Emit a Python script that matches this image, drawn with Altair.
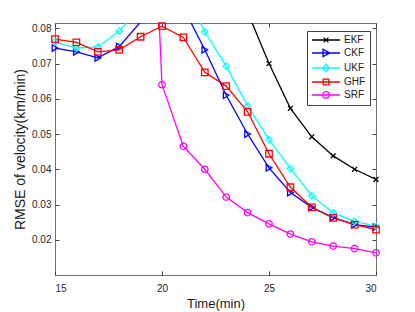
import altair as alt
import pandas as pd

time = list(range(15, 31))
methods = ["EKF", "CKF", "UKF", "GHF", "SRF"]
ekf = [0.30, 0.28, 0.26, 0.24, 0.22, 0.20, 0.17, 0.14, 0.11, 0.0846, 0.0700, 0.0573, 0.0492, 0.0438, 0.0400, 0.0371]
ckf = [0.0744, 0.0733, 0.0716, 0.0748, 0.0818, 0.0880, 0.0858, 0.0739, 0.0610, 0.0500, 0.0404, 0.0334, 0.0292, 0.0263, 0.0243, 0.0236]
ukf = [0.0761, 0.0744, 0.0747, 0.0792, 0.0860, 0.0940, 0.0915, 0.0790, 0.0692, 0.0580, 0.0484, 0.0402, 0.0325, 0.0276, 0.0252, 0.0238]
ghf = [0.0769, 0.0760, 0.0733, 0.0739, 0.0776, 0.0806, 0.0774, 0.0675, 0.0636, 0.0563, 0.0444, 0.0349, 0.0292, 0.0262, 0.0243, 0.0229]
srf = [0.23, 0.22, 0.215, 0.21, 0.20, 0.0640, 0.0465, 0.0400, 0.0321, 0.0277, 0.0245, 0.0216, 0.0194, 0.0182, 0.0175, 0.0163]
colors = ["#000000", "#0000ff", "#00ffff", "#ff0000", "#ff00ff"]
# plot markers
shapes = ["M-0.75,-0.75L0.75,0.75M-0.75,0.75L0.75,-0.75", "triangle-right", "diamond", "square", "circle"]
# legend symbols: a line segment with the open marker in its middle
legend_shapes = [
    "M-1,0L6,0M1.9,-0.6L3.1,0.6M1.9,0.6L3.1,-0.6",
    "M-1,0L6,0M1.75,-0.9L3.45,0L1.75,0.9Z",
    "M-1,0L6,0M2.5,-0.95L3.25,0L2.5,0.95L1.75,0Z",
    "M-1,0L6,0M1.8,-0.7L3.2,-0.7L3.2,0.7L1.8,0.7Z",
    "M-1,0L6,0M1.65,0A0.85,0.85 0 1,0 3.35,0A0.85,0.85 0 1,0 1.65,0Z",
]
x_ticks = [15, 20, 25, 30]
y_ticks = [0.02, 0.03, 0.04, 0.05, 0.06, 0.07, 0.08]

rows = []
for m, vals in zip(methods, [ekf, ckf, ukf, ghf, srf]):
    for t, v in zip(time, vals):
        rows.append({"Time": t, "RMSE": v, "Method": m})
df = pd.DataFrame(rows)

W, H = 321, 252
YMIN, YMAX = 0.01, 0.0815
FONT = "Liberation Sans"

xs = alt.Scale(domain=[15, 30], nice=False, zero=False)
ys = alt.Scale(domain=[YMIN, YMAX], nice=False, zero=False)

base = alt.Chart(df)

legend = alt.Legend(
    orient="none", legendX=252, legendY=8, title=None,
    symbolSize=64, symbolStrokeWidth=1.3, symbolFillColor="transparent",
    labelFontSize=10, labelFont=FONT, labelColor="#1a1a1a", labelOffset=23,
    rowPadding=1, padding=4, fillColor="white", strokeColor="#404040",
    labelExpr="datum.label + '   '",
)

# inward tick marks on all four sides (axes moved onto the opposite edge)
tick_axis_style = dict(labels=False, domain=False, grid=False, ticks=True, tickSize=4,
                       tickColor="#404040", tickWidth=1, title=None)

lines = base.mark_line(clip=True, strokeWidth=1.3).encode(
    x=alt.X("Time:Q", scale=xs, axis=alt.Axis(
        orient="bottom", values=x_ticks, ticks=False, tickSize=0, domain=False, grid=False,
        labelPadding=8, labelFontSize=10, labelColor="#262626",
        title="Time(min)", titleFontSize=13, titlePadding=4, titleColor="#1a1a1a",
        titleFontWeight="normal")),
    y=alt.Y("RMSE:Q", scale=ys, axis=alt.Axis(
        orient="left", values=y_ticks, format=".2f", ticks=False, tickSize=0, domain=False,
        grid=False, labelPadding=4, labelFontSize=10, labelColor="#262626",
        title="RMSE of velocity(km/min)", titleFontSize=14, titlePadding=4,
        titleColor="#1a1a1a", titleFontWeight="normal")),
    stroke=alt.Stroke("Method:N", scale=alt.Scale(domain=methods, range=colors), legend=legend),
)

point_layers = []
for i, (m, shp, col) in enumerate(zip(methods, shapes, colors)):
    if i == 0:
        xa = alt.Axis(orient="top", offset=-H, values=x_ticks, **tick_axis_style)
        ya = alt.Axis(orient="right", offset=-W, values=y_ticks, **tick_axis_style)
    else:
        xa = None
        ya = None
    layer = base.transform_filter(alt.datum.Method == m).transform_filter(
        f"datum.RMSE <= {YMAX}"
    ).mark_point(filled=False, shape=shp, color=col, size=42, strokeWidth=1.3, opacity=1).encode(
        x=alt.X("Time:Q", scale=xs, axis=xa),
        y=alt.Y("RMSE:Q", scale=ys, axis=ya),
    )
    point_layers.append(layer)

legend_layer = base.transform_filter("false").mark_point(filled=False, opacity=1).encode(
    x=alt.X("Time:Q", scale=xs, axis=alt.Axis(orient="bottom", offset=-H, values=x_ticks, **tick_axis_style)),
    y=alt.Y("RMSE:Q", scale=ys, axis=alt.Axis(orient="left", offset=-W, values=y_ticks, **tick_axis_style)),
    color=alt.Color("Method:N", scale=alt.Scale(domain=methods, range=colors), legend=legend),
    shape=alt.Shape("Method:N", scale=alt.Scale(domain=methods, range=legend_shapes), legend=legend),
)

chart = alt.layer(lines, *point_layers, legend_layer).resolve_axis(
    x="independent", y="independent"
).properties(
    width=W, height=H,
    autosize=alt.AutoSizeParams(type="none"),
    padding={"left": 47, "top": 15, "right": 31, "bottom": 37},
).configure(font=FONT).configure_view(stroke="#707070", strokeWidth=1).configure_axis(
    labelFont=FONT, titleFont=FONT
)

chart.save("out.html", embed_options={"renderer": "svg", "actions": False})
